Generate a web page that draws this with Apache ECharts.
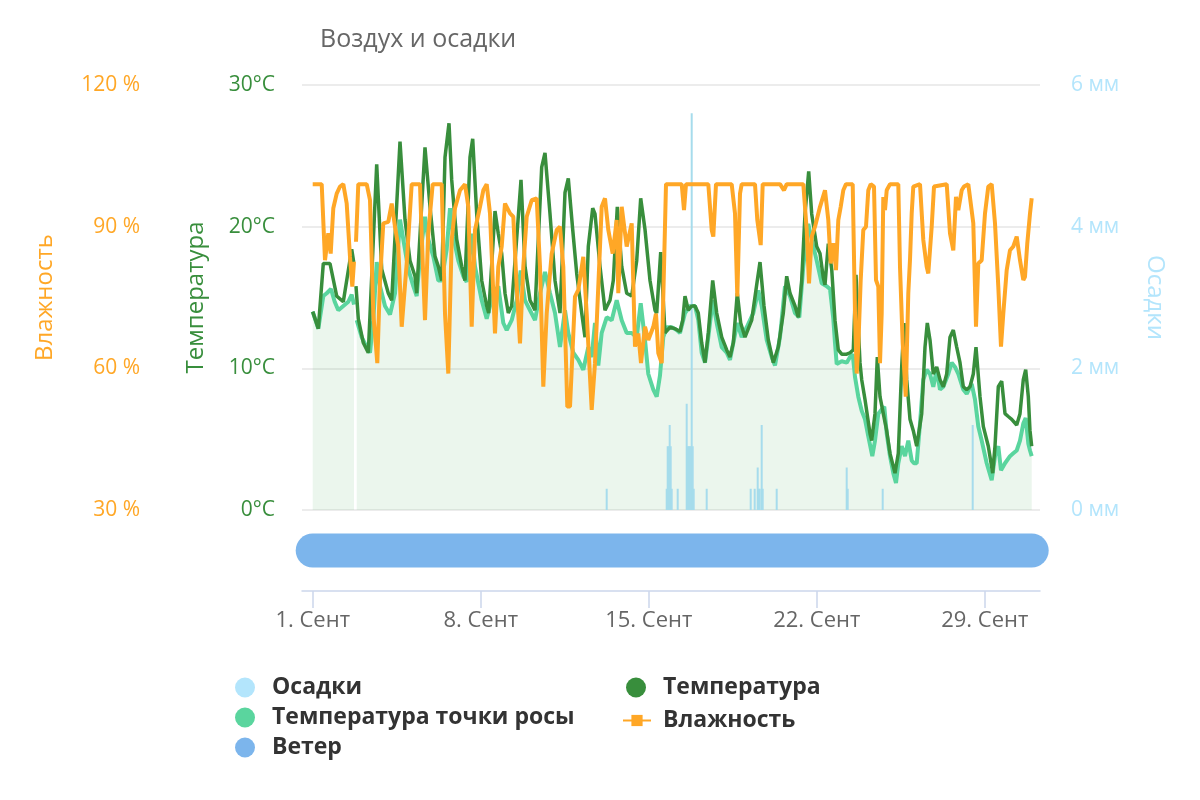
<!DOCTYPE html>
<html><head><meta charset="utf-8">
<script src="https://cdn.jsdelivr.net/npm/echarts@6/dist/echarts.min.js"></script>
<style>html,body{margin:0;padding:0;background:#fff}#c{width:1200px;height:800px}</style>
</head><body><div id="c"></div>
<script>
// x values are hours since 1 Sep 00:00
const tickHours = [0, 168, 336, 504, 672];

const tempHours = [0,5.6,10.6,17.3,24,30.6,39,41,42,43.3,45.6,50.6,55.6,64,69,75.6,79,87.3,92.3,97.3,102.3,104,112.3,117.3,122.3,125.6,129,132.3,136.3,139,144,149,152.3,157.3,160,164,169,174,176,182.3,185.6,189,192.3,195.6,199,208.3,212.3,217.3,222.3,229,232.3,237.3,242.3,247.3,252.3,255.6,260,264,269,272.3,275.6,280,282.3,287.3,292.3,297.3,300.6,304.6,309,314,319,324,328,332.3,337.3,342.3,344,348,352.3,357.3,362.3,367.3,370,372.3,375.6,379,382.3,385.6,389,392.3,395.6,400,404,409,414,417.3,420.6,424.6,428,432.3,439,444.6,447.3,451.3,455.6,460.6,465.6,470.6,474,477.3,482.3,485.6,489,492.3,496,499,504,507.3,510.6,512.3,515.6,519,522.3,525.6,529,534,537.3,540.6,543.3,545.6,547.3,549,552.3,557.3,559,562.3,564.6,567.3,570.6,574,577.3,582.3,585.6,589,591.3,594,597.3,600.6,604,609,612.3,614.6,617.3,620.6,624,627.3,630.6,634,637.3,640.6,644,647.3,650.6,654,657.3,660.6,663.3,667.3,670.6,675.6,680,682.3,685.6,689,692.3,695.6,699,704,707.3,710.6,713,715.6,717.3,719];
const tempValues = [14.0,12.8,17.4,17.4,15.1,14.7,18.4,17.5,null,15.8,13.5,11.8,11.1,24.4,17.0,15.3,14.8,26.0,20.5,17.6,16.5,15.3,25.6,21.4,17.9,17.2,16.2,24.9,27.3,23.3,19.1,17.2,16.2,24.9,26.2,20.9,16.2,14.4,13.9,21.1,19.5,18.1,15.3,13.9,14.4,23.3,17.2,14.8,14.1,24.2,25.2,20.9,16.2,13.9,22.4,23.4,19.8,16.7,13.9,12.2,18.6,21.3,20.9,17.2,14.1,14.8,16.2,21.4,17.2,15.3,15.1,17.6,22.0,19.8,16.2,14.1,13.9,18.2,12.5,12.9,12.8,12.6,13.4,15.1,14.1,14.4,14.4,13.9,11.8,10.4,12.5,16.2,13.9,12.2,11.3,10.8,11.8,15.3,13.2,12.2,13.4,16.2,17.5,14.4,12.0,10.4,11.5,13.9,16.5,15.3,14.4,13.6,16.2,20.9,23.9,20.9,18.6,18.1,16.4,15.9,18.8,17.0,13.4,11.3,11.0,11.0,11.1,11.3,16.6,12.9,10.4,9.2,7.8,5.4,4.9,6.8,10.8,8.0,6.8,5.6,4.0,2.6,4.0,10.1,13.2,9.2,6.4,5.6,4.5,6.8,11.5,13.2,12.0,9.6,10.1,9.2,8.7,9.6,12.2,12.7,11.5,10.4,8.7,8.5,8.7,9.6,11.5,8.0,5.9,4.5,2.6,4.5,8.7,9.1,6.8,6.6,6.4,6.0,6.8,9.2,9.9,8.0,5.6,4.5];

const dewHours = [0,5.6,10.6,14,18.3,22,25.6,30.6,35.6,39,41.3,42,44,49,54,57.3,60.6,64,67.3,72.3,77.3,82.3,87.3,90.6,95.6,100.6,104,107.3,112.3,115.6,120.6,125.6,129,134,137.3,140.6,145.6,150.6,154,159,162.3,169,174,176,180.6,185.6,190.6,194,199,204,208,212.3,217.3,222.3,227.3,232.3,237.3,242.3,247.3,252.3,255.6,260.6,265.6,270.6,275.6,279,282.3,285.6,289,294,299,304,309,314,319,324,328,332.3,335.6,340.6,344,347.3,350.6,354,359,364,367.3,372.3,377.3,382.3,385.6,389,392.3,395.6,400,404,409,414,417.3,420.6,424.6,429,434,440.6,445.6,449,454,459,462.3,467.3,472.3,477.3,482.3,486.6,490.6,495.6,499,504,509,514,517.3,520.6,522.3,524,529,534,537.3,540,542.3,545.6,549,552.3,555.6,559.6,562.3,565.6,569,571.6,574,577.3,580.6,583.3,585.6,589,592.3,595.6,599,601.3,604,607.3,610.6,614,617.3,620.6,624,627.3,630.6,635.6,639,642.3,645.6,650.6,654,659,662.3,665.6,669,674,679,682.3,685.6,688.3,692.3,697.3,700.6,704,707.3,710.6,713,715.6,717.3,719];
const dewValues = [14.0,12.8,15.1,15.3,15.6,14.7,14.1,14.4,14.7,15.2,14.5,null,13.4,12.2,11.5,11.1,13.4,17.5,15.8,14.4,13.8,15.3,20.5,19.1,17.0,15.8,15.1,17.9,20.7,19.1,17.9,16.2,16.2,18.4,21.3,19.3,17.6,16.5,16.1,19.5,17.2,14.8,13.5,13.6,15.3,15.8,13.2,12.7,13.4,14.8,16.9,14.8,14.1,13.4,15.3,16.8,15.3,13.9,11.5,14.1,12.5,11.1,10.6,9.9,11.5,10.8,13.2,10.2,12.5,13.6,13.4,14.8,13.4,12.5,12.5,12.2,14.6,12.0,9.6,8.5,8.0,9.5,12.2,12.9,12.9,12.7,12.5,13.9,14.4,14.4,13.4,11.1,10.4,12.2,14.8,13.2,11.5,11.1,10.6,11.8,13.2,12.2,12.9,13.9,15.5,14.4,12.0,10.8,10.2,12.2,15.8,15.1,13.9,13.6,17.2,20.2,19.1,17.6,16.0,15.8,15.6,13.5,11.8,10.3,10.5,10.4,10.8,11.0,9.4,8.0,7.0,6.4,5.2,3.8,4.9,6.8,7.1,7.3,5.4,3.8,2.6,1.9,3.3,4.5,3.8,4.9,3.5,3.3,3.3,6.1,9.2,9.9,9.6,8.7,9.9,8.5,8.7,9.6,10.4,10.1,9.6,8.5,8.2,8.9,7.8,5.9,4.9,3.3,2.1,3.8,4.5,2.8,3.3,3.8,4.0,4.2,4.9,6.1,6.5,4.7,4.2,3.8];

const humHours = [0,9,12.3,15.6,18,20.6,24,27.3,30.6,34,37.3,39.6,41.3,42,43.3,45.6,54,57.3,60.6,63.3,64.6,67.3,70.6,75.6,79,82.3,85.6,89,94,99,107.3,109,112.3,115.6,120,129,132.3,135.6,139,142.3,147.3,152.3,155.6,159,162.3,167.3,170.6,174,177.3,180.6,182.3,185.6,189,192.3,197.3,200.6,204,207.3,210.6,214,219,224,227.3,230.6,234,235.6,239,244,247.3,250.6,254.6,257.3,262.3,265.6,270.6,274,279,282.3,289,292.3,295.6,300,304,305.6,309,314,319,322.3,325.6,328.3,332.3,335.6,340.6,343.3,345.6,349,353.3,369,371.3,373.3,395.6,399,400.6,403.3,419,422.3,424.6,427.3,429,442.3,444.6,448,450,467.3,471.3,474,490.6,494,496.3,499,502.3,507.3,512.3,515.6,518,520.6,523.3,525.6,528,530.6,533.3,540,542.3,544,545.6,548,550.6,553.3,555.6,558,561.3,563.3,565.6,567.3,569,570.6,572.3,574,577.3,585.6,587.3,590,593,595.6,597.3,599,600.6,607.3,610.6,614,615.6,619,621.3,634,637.3,640.6,643.3,645.6,649,651.3,655.6,660.6,663.3,665.6,669,672.3,675.6,679,682.3,685.6,688.3,690.6,694,697.3,700.6,704,707.3,710.6,712.3,714.6,717.3,719];
const humValues = [99,99,82.9,88.6,84.3,93.9,97.0,98.5,99,94.9,83.6,77.3,82.6,null,86.8,99,99,95.6,71.6,64.6,61.1,78.7,90.7,91.0,94.9,90.0,85.8,68.8,82.2,99,99,88.0,70.2,88.6,99,99,71.6,58.9,87.2,93.9,97.7,99,94.2,68.8,89.3,94.2,97.7,99,92.8,75.9,67.4,81.5,85.8,94.9,92.8,92.1,77.3,65.3,81.5,92.1,95.6,96.0,81.5,56.1,71.6,75.9,84.3,89.3,90.0,81.5,51.9,51.9,75.2,76.6,83.6,71.6,51.2,61.1,94.2,96.0,89.3,84.3,91.4,75.9,94.2,85.8,90.7,64.6,67.4,61.1,68.8,66.0,68.8,71.6,63.2,61.1,99,99,93.5,99,99,89.3,87.9,99,99,92.8,75.2,97.0,99,99,91.4,86.1,99,99,97.7,99,99,89.3,78.0,87.9,90.0,94.2,97.7,91.4,82.2,86.5,80.8,91.4,94.2,97.7,99,99,71.6,58.9,64.6,78.7,89.3,90.0,97.7,99,98.5,78.7,77.3,61.1,71.6,96.3,93.5,97.7,99,99,81.5,65.3,54.0,75.9,83.0,92.8,98.5,99,87.2,81.5,80.1,90.0,98.5,99,88.6,85.0,96.3,93.5,97.7,98.5,99,90.7,68.8,82.2,82.9,92.8,98.5,99,90.7,77.3,64.6,71.6,80.8,85.0,85.8,87.9,82.9,78.7,79.4,86.5,92.8,96.0];

const precipHours = [294,354,355,356,357,358,359,365,374,375,376,377,378,379,380,381,394,438,442,445,446,447,449,450,464,534,535,570,660];
const precipValues = [0.3,0.3,0.9,0.9,1.2,0.9,0.3,0.3,1.5,0.9,0.9,0.9,0.9,5.6,0.9,0.3,0.3,0.3,0.3,0.6,0.3,0.3,1.2,0.3,0.3,0.6,0.3,0.3,1.2];

const windHours = [0, 719];
const windValues = [1, 1];

const pairs = (hs, vs) => hs.map((h, i) => [h, vs[i] === null ? '-' : vs[i]]);

const FONT = 'Open Sans';
const chart = echarts.init(document.getElementById('c'));
const legendText = {fontFamily: FONT, fontWeight: 'bold', fontSize: 23, color: '#333', padding: [0, 0, 0, 12]};
const xCommon = {type: 'value', min: -10.7, max: 727.3};

chart.setOption({
  animation: false,
  backgroundColor: '#fff',
  title: {text: 'Воздух и осадки', left: 320, top: 27, padding: 0,
    textStyle: {fontFamily: FONT, fontSize: 25, fontWeight: 'normal', color: '#666'}},
  grid: [
    {left: 302, right: 160, top: 85, bottom: 290},
    {left: 302, right: 160, top: 510, bottom: 209}
  ],
  xAxis: [
    Object.assign({gridIndex: 0, show: false, splitLine: {show: false}}, xCommon),
    Object.assign({gridIndex: 1, splitLine: {show: false},
      axisLine: {show: true, lineStyle: {color: '#ccd6eb', width: 1.5}},
      axisTick: {show: true, customValues: tickHours, length: 17, lineStyle: {color: '#ccd6eb', width: 1.5}},
      axisLabel: {customValues: tickHours, margin: 19, color: '#666', fontFamily: FONT, fontSize: 22,
        formatter: v => (Math.round(v / 24) + 1) + '. Сент'}}, xCommon)
  ],
  yAxis: [
    {type: 'value', gridIndex: 0, position: 'left', min: 0, max: 30, interval: 10,
      name: 'Температура', nameLocation: 'middle', nameGap: 94, nameRotate: 90,
      nameTextStyle: {color: '#388e3c', fontFamily: FONT, fontSize: 24},
      axisLine: {show: false}, axisTick: {show: false},
      axisLabel: {formatter: '{value}°C', color: '#388e3c', fontFamily: FONT, fontSize: 21, margin: 27},
      splitLine: {show: true, lineStyle: {color: '#e6e6e6', width: 1.5}}},
    {type: 'value', gridIndex: 0, position: 'left', offset: 135, min: 30, max: 120, interval: 30,
      name: 'Влажность', nameLocation: 'middle', nameGap: 110, nameRotate: 90,
      nameTextStyle: {color: '#ffa726', fontFamily: FONT, fontSize: 24},
      axisLine: {show: false}, axisTick: {show: false}, splitLine: {show: false},
      axisLabel: {formatter: '{value} %', color: '#ffa726', fontFamily: FONT, fontSize: 21, margin: 27}},
    {type: 'value', gridIndex: 0, position: 'right', min: 0, max: 6, interval: 2,
      name: 'Осадки', nameLocation: 'middle', nameGap: 103, nameRotate: -90,
      nameTextStyle: {color: '#b3e5fc', fontFamily: FONT, fontSize: 24},
      axisLine: {show: false}, axisTick: {show: false}, splitLine: {show: false},
      axisLabel: {formatter: '{value} мм', color: '#b3e5fc', fontFamily: FONT, fontSize: 21, margin: 31}},
    {type: 'value', gridIndex: 1, min: 0, max: 2, show: false}
  ],
  legend: [
    {left: 235, top: 676, padding: 0, itemWidth: 20, itemHeight: 20, textStyle: legendText,
      data: [{name: 'Осадки', icon: 'circle', itemStyle: {color: '#b3e5fc'}}]},
    {left: 626, top: 676, padding: 0, itemWidth: 20, itemHeight: 20, textStyle: legendText,
      data: [{name: 'Температура', icon: 'circle'}]},
    {left: 235, top: 706, padding: 0, itemWidth: 20, itemHeight: 20, textStyle: legendText,
      data: [{name: 'Температура точки росы', icon: 'circle'}]},
    {left: 622, top: 709, padding: 0, itemWidth: 28, itemHeight: 14,
      textStyle: Object.assign({}, legendText, {padding: [0, 0, 0, 7]}),
      data: [{name: 'Влажность'}]},
    {left: 235, top: 736, padding: 0, itemWidth: 20, itemHeight: 20, textStyle: legendText,
      data: [{name: 'Ветер', icon: 'circle'}]}
  ],
  series: [
    {name: 'Температура точки росы', type: 'line', xAxisIndex: 0, yAxisIndex: 0, z: 1,
      data: pairs(dewHours, dewValues), showSymbol: false, symbol: 'circle',
      color: '#5ad59e', lineStyle: {width: 4, color: '#5ad59e'},
      areaStyle: {color: 'rgba(110,190,130,0.2)'}},
    {name: 'Осадки', type: 'bar', xAxisIndex: 0, yAxisIndex: 2, z: 2,
      data: pairs(precipHours, precipValues), barWidth: 2,
      itemStyle: {color: '#a6dcec'}},
    {name: 'Температура', type: 'line', xAxisIndex: 0, yAxisIndex: 0, z: 3,
      data: pairs(tempHours, tempValues), showSymbol: false, symbol: 'circle',
      color: '#388e3c', lineStyle: {width: 3.5, color: '#388e3c'}},
    {name: 'Влажность', type: 'line', xAxisIndex: 0, yAxisIndex: 1, z: 4,
      data: pairs(humHours, humValues), showSymbol: false, symbol: 'rect', symbolSize: 10,
      color: '#ffa726', lineStyle: {width: 4, color: '#ffa726'}},
    {name: 'Ветер', type: 'line', xAxisIndex: 1, yAxisIndex: 3,
      data: pairs(windHours, windValues), showSymbol: false, symbol: 'circle',
      color: '#7cb5ec', lineStyle: {width: 34, color: '#7cb5ec', cap: 'round'}}
  ]
});
</script>
</body></html>
